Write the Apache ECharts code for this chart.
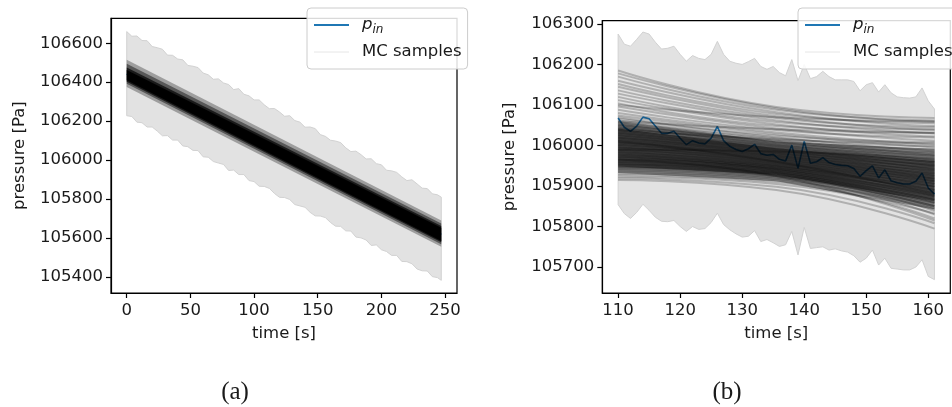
<!DOCTYPE html>
<html><head><meta charset="utf-8">
<script src="https://cdn.jsdelivr.net/npm/echarts@6/dist/echarts.min.js"></script>
<style>html,body{margin:0;padding:0;background:#fff}#c{width:952px;height:407px}</style>
</head><body><div id="c"></div>
<script>
// ---------- Panel (a) data ----------
const leftTime = [0,4,8,12,16,20,24,28,32,36,40,44,48,52,56,60,64,68,72,76,80,84,88,92,96,100,104,108,112,116,120,124,128,132,136,140,144,148,152,156,160,164,168,172,176,180,184,188,192,196,200,204,208,212,216,220,224,228,232,236,240,244,247];
const leftUpper = [106660,106636,106637,106614,106613,106583,106577,106569,106539,106538,106519,106515,106486,106482,106475,106447,106438,106415,106417,106396,106388,106362,106367,106338,106330,106309,106309,106284,106264,106265,106247,106225,106228,106203,106195,106169,106170,106162,106131,106122,106102,106098,106090,106063,106044,106046,106028,106006,106007,105982,105976,105948,105945,105937,105914,105895,105899,105878,105856,105854,105827,105822,105810];
const leftLower = [106228,106224,106195,106192,106170,106170,106149,106125,106126,106103,106103,106073,106069,106050,106049,106017,106015,105993,105985,105978,105947,105949,105926,105926,105895,105890,105866,105865,105855,105829,105809,105808,105798,105772,105765,105758,105732,105714,105713,105705,105680,105661,105660,105637,105636,105605,105601,105590,105562,105565,105540,105531,105511,105511,105480,105479,105468,105441,105432,105431,105402,105397,105383];
const leftPinTime = [0,20,40,60,80,100,120,140,160,180,200,220,240,247];
const leftPin = [106442,106372,106310,106243,106178,106108,106045,105975,105912,105843,105778,105708,105645,105618];
// MC sample density bands (outer -> inner), values at start (t=0) and end (t=247)
const leftMcTime = [0, 247];
const leftMcStartLo = [106376,106392,106402,106410];
const leftMcStartHi = [106515,106495,106475,106462];
const leftMcEndLo   = [105555,105568,105578,105585];
const leftMcEndHi   = [105690,105675,105662,105653];
const leftXTicks = [0,50,100,150,200,250];
const leftYTicks = [105400,105600,105800,106000,106200,106400,106600];

// ---------- Panel (b) data ----------
const rightTime = [110,111,112,113,114,115,116,117,118,119,120,121,122,123,124,125,126,127,128,129,130,131,132,133,134,135,136,137,138,139,140,141,142,143,144,145,146,147,148,149,150,151,152,153,154,155,156,157,158,159,160,161];
const rightUpper = [106275,106250,106245,106262,106280,106275,106255,106238,106240,106245,106225,106208,106222,106215,106212,106225,106257,106225,106208,106203,106200,106207,106215,106195,106188,106195,106180,106172,106212,106160,106200,106165,106170,106183,106170,106162,106162,106162,106158,106135,106150,106155,106132,106150,106130,106120,106118,106117,106120,106142,106110,106090];
const rightLower = [105854,105832,105820,105835,105855,105840,105823,105813,105812,105815,105800,105788,105800,105793,105795,105810,105833,105805,105792,105782,105774,105776,105790,105763,105768,105760,105751,105755,105788,105730,105798,105746,105748,105750,105742,105745,105740,105737,105728,105712,105722,105742,105705,105722,105697,105695,105693,105693,105700,105718,105677,105669];
const rightPin = [106068,106045,106035,106048,106070,106066,106048,106030,106030,106035,106018,106002,106012,106006,106004,106018,106047,106012,105998,105990,105985,105992,106003,105980,105976,105978,105966,105962,106001,105944,106010,105956,105960,105970,105958,105953,105951,105950,105943,105924,105938,105950,105920,105940,105913,105908,105905,105905,105912,105932,105895,105880];
// MC sample curves: values at t = 110, 135.5, 161
const mcTime = [110, 135.5, 161];
const mcStart = [106185,106178,106170,106160,106152,106145,106136,106128,106120,106112,106104,106096,106088,106080,
  106074,106070,106066,106062,106058,106055,106052,106048,106045,106042,106038,106035,106032,106029,106026,106023,106020,106017,106014,106011,106008,106005,106002,105999,105996,105993,105990,105987,105984,105981,
  105978,105975,105972,105969,105966,105963,105960,105957,105954,105951,105948,105945,105942,105939,
  105935,105931,105927,105923,105919,105915,
  106040,106060,105990,106100,105965,106010,
  106050,106044,106037,106031,106025,106019,106013,106007,106001,105995,105989,105983,105977,105971,105965,105959,105953,105947];
const mcMid = [106095,106092,106088,106082,106078,106072,106068,106062,106058,106052,106048,106042,106038,106032,
  106028,106024,106020,106018,106014,106012,106008,106006,106002,106000,105997,105995,105992,105990,105987,105985,105982,105980,105977,105975,105972,105970,105967,105965,105962,105960,105957,105955,105952,105950,
  105948,105946,105944,105942,105940,105938,105936,105934,105932,105930,105928,105926,105924,105921,
  105918,105914,105910,105905,105898,105890,
  106015,106040,105985,106070,105925,105960,
  106010,106004,105999,105993,105988,105983,105978,105973,105968,105963,105958,105953,105948,105943,105939,105934,105929,105925];
const mcEnd = [106068,106058,106062,106048,106055,106038,106045,106030,106040,106022,106032,106012,106020,106002,
  105995,106008,105985,105998,105978,105990,105970,105982,105962,105975,105955,105968,105948,105960,105940,105952,105932,105945,105925,105938,105918,105930,105912,105924,105905,105918,105898,105912,105890,105905,
  105884,105898,105876,105890,105868,105882,105860,105875,105852,105866,105845,105858,105838,105850,
  105830,105842,105820,105832,105808,105795,
  106005,106030,105965,106060,105815,105880,
  105975,105965,105958,105950,105942,105935,105928,105920,105914,105908,105900,105893,105886,105878,105872,105865,105858,105850];
// dense core of the MC samples (outer -> inner), values at t = 110, 135.5, 161
const mcCoreLo = [[105932,105912,105842],[105948,105928,105862]];
const mcCoreHi = [[106060,106010,105992],[106042,105993,105962]];
const rightXTicks = [110,120,130,140,150,160];
const rightYTicks = [105700,105800,105900,106000,106100,106200,106300];

// ---------- helpers ----------
const FONT = 'DejaVu Sans';
const TXT = '#1a1a1a';
function polySeries(idx, xs, hi, lo, style, z) {
  return {
    type: 'custom', xAxisIndex: idx, yAxisIndex: idx, clip: true, silent: true, z: z,
    data: [[xs[0], hi[0]]],
    renderItem: function (params, api) {
      const pts = [];
      for (let i = 0; i < xs.length; i++) pts.push(api.coord([xs[i], hi[i]]));
      for (let i = xs.length - 1; i >= 0; i--) pts.push(api.coord([xs[i], lo[i]]));
      return { type: 'polygon', shape: { points: pts }, style: style };
    }
  };
}
function zip(a, b) { return a.map((v, i) => [v, b[i]]); }

const series = [];
// panel a
series.push(polySeries(0, leftTime, leftUpper, leftLower, { fill: '#e2e2e2', stroke: '#d2d2d2', lineWidth: 1 }, 1));
series.push({ type: 'line', name: 'p_in', xAxisIndex: 0, yAxisIndex: 0, data: zip(leftPinTime, leftPin), z: 2,
  symbol: 'none', showSymbol: false, silent: true, lineStyle: { color: '#1f77b4', width: 1.6 }, itemStyle: { color: '#1f77b4' } });
const leftOp = [0.3, 0.45, 0.7, 1.0];
for (let k = 0; k < leftMcStartLo.length; k++) {
  series.push(polySeries(0, leftMcTime, [leftMcStartHi[k], leftMcEndHi[k]], [leftMcStartLo[k], leftMcEndLo[k]],
    { fill: '#000000', opacity: leftOp[k] }, 3));
}
// panel b
series.push(polySeries(1, rightTime, rightUpper, rightLower, { fill: '#e2e2e2', stroke: '#d2d2d2', lineWidth: 1 }, 1));
series.push({ type: 'line', name: 'p_in', xAxisIndex: 1, yAxisIndex: 1, data: zip(rightTime, rightPin), z: 2,
  symbol: 'none', showSymbol: false, silent: true, lineStyle: { color: '#1f77b4', width: 1.6 }, itemStyle: { color: '#1f77b4' } });
const coreOp = [0.35, 0.4];
for (let k = 0; k < mcCoreLo.length; k++) {
  series.push(polySeries(1, mcTime, mcCoreHi[k], mcCoreLo[k], { fill: '#000000', opacity: coreOp[k] }, 3));
}
for (let k = 0; k < mcStart.length; k++) {
  series.push({ type: 'line', name: 'MC samples', xAxisIndex: 1, yAxisIndex: 1, z: 3,
    data: zip(mcTime, [mcStart[k], mcMid[k], mcEnd[k]]), smooth: true,
    symbol: 'none', showSymbol: false, silent: true,
    lineStyle: { color: '#000000', width: 2, opacity: 0.22 }, itemStyle: { color: '#000000' } });
}

function xAxisCfg(idx, min, max, ticks) {
  return { gridIndex: idx, type: 'value', min: min, max: max,
    axisLine: { show: true, onZero: false, lineStyle: { color: '#000', width: 1.2 } },
    axisTick: { show: true, length: 5, customValues: ticks, lineStyle: { color: '#000', width: 1.2 } },
    axisLabel: { customValues: ticks, formatter: v => String(v), fontFamily: FONT, fontSize: 16.5, color: TXT, margin: 9 },
    splitLine: { show: false },
    name: 'time [s]', nameLocation: 'middle', nameGap: 32,
    nameTextStyle: { fontFamily: FONT, fontSize: 16.5, color: TXT } };
}
function yAxisCfg(idx, min, max, ticks, gap) {
  return { gridIndex: idx, type: 'value', min: min, max: max,
    axisLine: { show: true, onZero: false, lineStyle: { color: '#000', width: 1.2 } },
    axisTick: { show: true, length: 5, customValues: ticks, lineStyle: { color: '#000', width: 1.2 } },
    axisLabel: { customValues: ticks, formatter: v => String(v), fontFamily: FONT, fontSize: 16.5, color: TXT, margin: 8 },
    splitLine: { show: false },
    name: 'pressure [Pa]', nameLocation: 'middle', nameGap: gap,
    nameTextStyle: { fontFamily: FONT, fontSize: 16.5, color: TXT } };
}
function legendCfg(left) {
  return {
    left: left, top: 8, orient: 'vertical', itemWidth: 35, itemHeight: 12, itemGap: 5,
    padding: [6, 6, 6, 6], backgroundColor: 'rgba(255,255,255,0.85)', borderColor: '#cccccc', borderWidth: 1, borderRadius: 4,
    selectedMode: false,
    data: [{ name: 'p_in', lineStyle: { color: '#1f77b4', width: 2, opacity: 1 }, itemStyle: { opacity: 0, borderWidth: 0 } },
           { name: 'MC samples', lineStyle: { color: '#e6e6e6', width: 1, opacity: 1 }, itemStyle: { opacity: 0, borderWidth: 0 } }],
    formatter: n => n === 'p_in' ? '{p|p}{s|in}' : n,
    textStyle: { fontFamily: FONT, fontSize: 16.5, color: TXT, lineHeight: 22, padding: [0, 0, 0, 8],
      rich: {
        p: { fontFamily: FONT, fontStyle: 'italic', fontSize: 16.5, color: TXT, lineHeight: 22 },
        s: { fontFamily: FONT, fontStyle: 'italic', fontSize: 12, color: TXT, lineHeight: 12, verticalAlign: 'bottom' }
      } }
  };
}

const option = {
  animation: false,
  backgroundColor: '#ffffff',
  grid: [
    { left: 111, top: 18.3, width: 346, height: 274.7, show: true, borderColor: '#000', borderWidth: 1.2, backgroundColor: 'transparent' },
    { left: 602.3, top: 20.7, width: 348, height: 272.3, show: true, borderColor: '#000', borderWidth: 1.2, backgroundColor: 'transparent' }
  ],
  xAxis: [ xAxisCfg(0, -12.35, 259.35, leftXTicks), xAxisCfg(1, 107.45, 163.55, rightXTicks) ],
  yAxis: [ yAxisCfg(0, 105318, 106728, leftYTicks, 83), yAxisCfg(1, 105636, 106308, rightYTicks, 84) ],
  legend: [ legendCfg(307), legendCfg(798) ],
  graphic: [
    { type: 'text', x: 235, y: 392, style: { text: '(a)', font: '25px "Liberation Serif"', fill: TXT, textAlign: 'center', textVerticalAlign: 'middle' } },
    { type: 'text', x: 727, y: 392, style: { text: '(b)', font: '25px "Liberation Serif"', fill: TXT, textAlign: 'center', textVerticalAlign: 'middle' } }
  ],
  series: series
};
const chart = echarts.init(document.getElementById('c'), null, { renderer: 'canvas' });
chart.setOption(option);
</script>
</body></html>
